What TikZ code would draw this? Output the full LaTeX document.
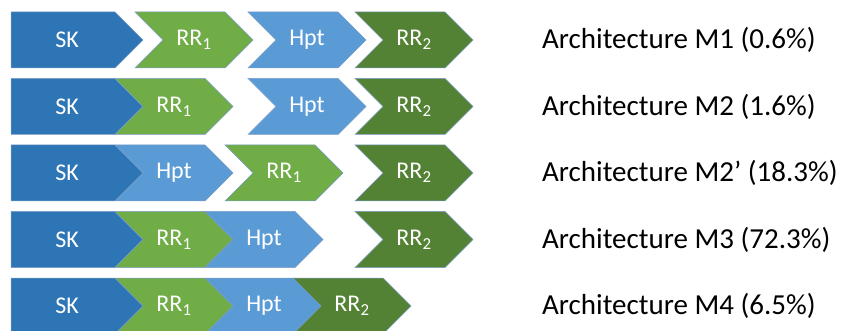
\documentclass[tikz,border=0pt]{standalone}
\usepackage{fontspec}
\setmainfont{Carlito}
\definecolor{cSK}{HTML}{2E75B6}
\definecolor{cHpt}{HTML}{5B9BD5}
\definecolor{cRRa}{HTML}{70AD47}
\definecolor{cRRb}{HTML}{548235}
\definecolor{cEdge}{HTML}{7A9CC6}
\tikzset{
  piece/.style={draw=cEdge, line width=0.5pt, line join=miter},
  lbl/.style={text=white, font=\fontsize{24}{27}\selectfont, inner sep=0pt},
  arch/.style={text=black, font=\fontsize{29}{32}\selectfont, anchor=west, inner sep=0pt},
}
% #1 top y, #2 fill
\newcommand{\skpiece}[2]{%
  \path[piece, fill=#2] (11,#1) -- ++(104,0) -- ++(28,28) -- ++(-28,28) -- ++(-104,0) -- cycle;}
% #1 left x, #2 top y, #3 fill
\newcommand{\chevpiece}[3]{%
  \path[piece, fill=#3] (#1,#2) -- ++(90,0) -- ++(28,28) -- ++(-28,28) -- ++(-90,0) -- ++(28,-28) -- cycle;}
\begin{document}
\begin{tikzpicture}[x=1pt,y=-1pt]
\useasboundingbox (0,0) rectangle (843,331);
\clip (0,0) rectangle (843,331);
% Row 1 (M1)
\skpiece{12}{cSK}
\chevpiece{135}{12}{cRRa}
\chevpiece{248}{12}{cHpt}
\chevpiece{355}{12}{cRRb}
\node[lbl] (a1) at (67,40) {SK};
\node[lbl] (b1) at (194,40) {RR\textsubscript{1}};
\node[lbl] (c1) at (307,40) {Hpt};
\node[lbl] (d1) at (414,40) {RR\textsubscript{2}};
\node[arch] (t1) at (542,40) {Architecture M1 (0.6\%)};
% Row 2 (M2)
\skpiece{78.5}{cSK}
\chevpiece{115}{78.5}{cRRa}
\chevpiece{248}{78.5}{cHpt}
\chevpiece{355}{78.5}{cRRb}
\node[lbl] (a2) at (67,106.5) {SK};
\node[lbl] (b2) at (174,106.5) {RR\textsubscript{1}};
\node[lbl] (c2) at (307,106.5) {Hpt};
\node[lbl] (d2) at (414,106.5) {RR\textsubscript{2}};
\node[arch] (t2) at (542,106.5) {Architecture M2 (1.6\%)};
% Row 3 (M2')
\skpiece{145}{cSK}
\chevpiece{115}{145}{cHpt}
\chevpiece{225}{145}{cRRa}
\chevpiece{355}{145}{cRRb}
\node[lbl] (a3) at (67,173) {SK};
\node[lbl] (c3) at (174,173) {Hpt};
\node[lbl] (b3) at (284,173) {RR\textsubscript{1}};
\node[lbl] (d3) at (414,173) {RR\textsubscript{2}};
\node[arch] (t3) at (542,173) {Architecture M2’ (18.3\%)};
% Row 4 (M3)
\skpiece{211.5}{cSK}
\chevpiece{115}{211.5}{cRRa}
\chevpiece{205}{211.5}{cHpt}
\chevpiece{355}{211.5}{cRRb}
\node[lbl] (a4) at (67,239.5) {SK};
\node[lbl] (b4) at (174,239.5) {RR\textsubscript{1}};
\node[lbl] (c4) at (264,239.5) {Hpt};
\node[lbl] (d4) at (414,239.5) {RR\textsubscript{2}};
\node[arch] (t4) at (542,239.5) {Architecture M3 (72.3\%)};
% Row 5 (M4)
\skpiece{278}{cSK}
\chevpiece{115}{278}{cRRa}
\chevpiece{205}{278}{cHpt}
\chevpiece{293}{278}{cRRb}
\node[lbl] (a5) at (67,306) {SK};
\node[lbl] (b5) at (174,306) {RR\textsubscript{1}};
\node[lbl] (c5) at (264,306) {Hpt};
\node[lbl] (d5) at (352,306) {RR\textsubscript{2}};
\node[arch] (t5) at (542,306) {Architecture M4 (6.5\%)};
\end{tikzpicture}
\end{document}
